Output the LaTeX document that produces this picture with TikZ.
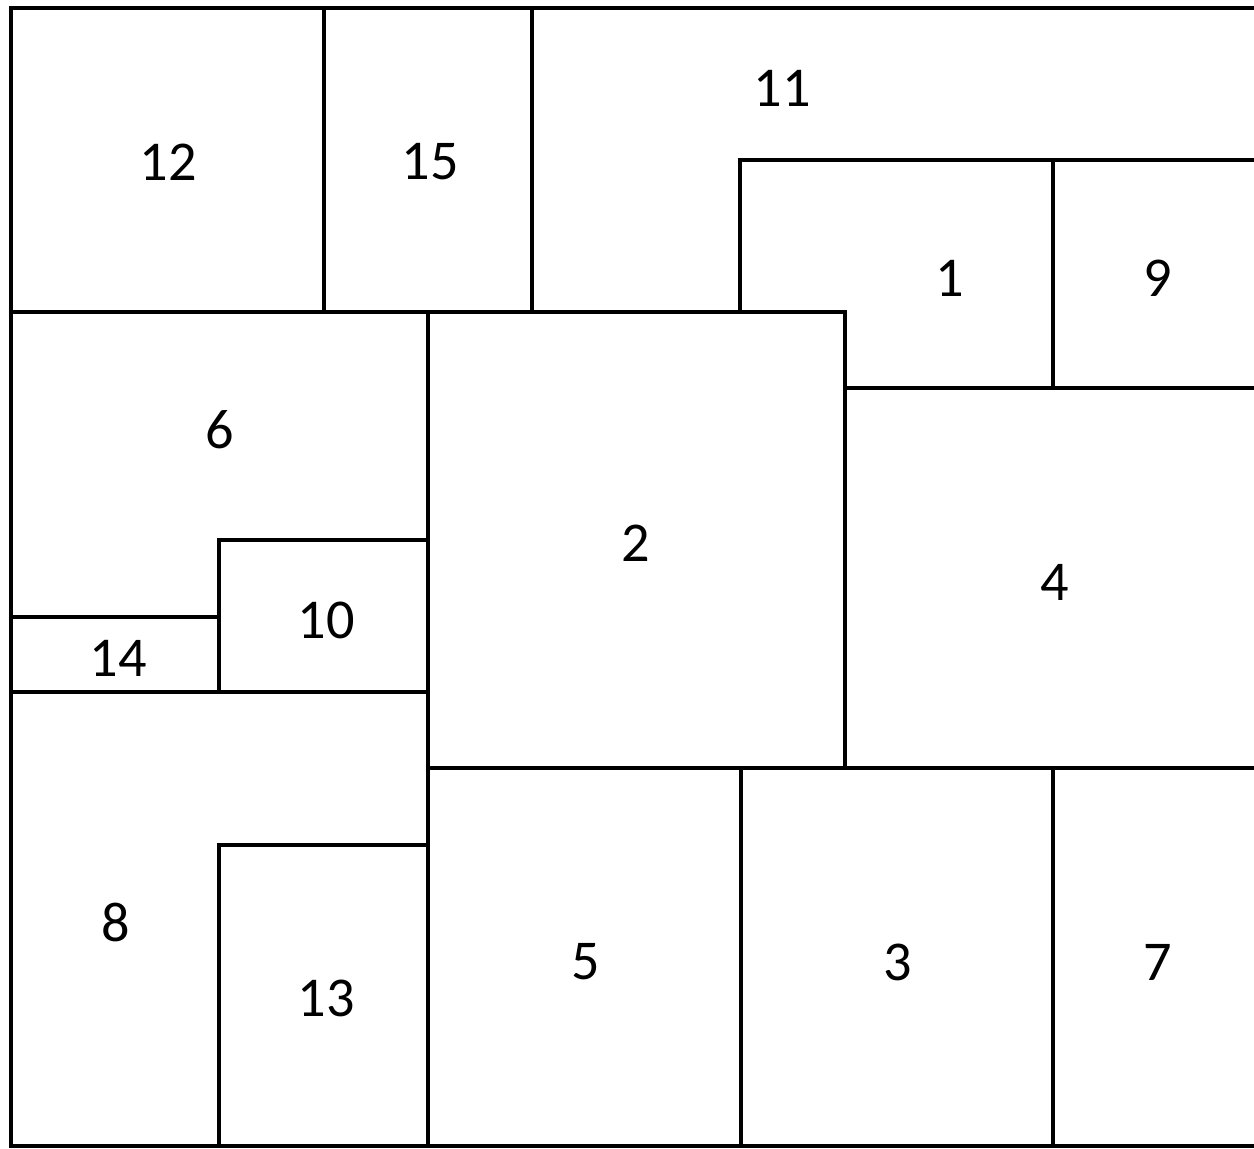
\documentclass[tikz,border=0pt]{standalone}
\usepackage{fontspec}
\setmainfont{Carlito}
\usepackage{tikz}

\begin{document}
\begin{tikzpicture}[
        x=0.02cm, y=-0.02cm,
        wall/.style={line width=2.3pt, line cap=rect},
        num/.style={font=\fontsize{32}{38}\selectfont, inner sep=0pt}
    ]
        \useasboundingbox (0,0) rectangle (1254,1149);

        % Outline (open on the right)
        \draw[wall] (1254,8) -- (11,8) -- (11,1146) -- (1254,1146);

        % Top band
        \draw[wall] (324,8) -- (324,312);
        \draw[wall] (532,8) -- (532,312);
        \draw[wall] (11,312) -- (845,312) -- (845,768);
        \draw[wall] (740,312) -- (740,160) -- (1254,160);
        \draw[wall] (1053,160) -- (1053,388);
        \draw[wall] (845,388) -- (1254,388);

        % Middle band
        \draw[wall] (428,312) -- (428,1146);
        \draw[wall] (428,768) -- (1254,768);
        \draw[wall] (428,540) -- (219,540) -- (219,692);
        \draw[wall] (11,617) -- (219,617);
        \draw[wall] (11,692) -- (428,692);

        % Bottom band
        \draw[wall] (428,845) -- (219,845) -- (219,1146);
        \draw[wall] (741,768) -- (741,1146);
        \draw[wall] (1053,768) -- (1053,1146);

        % Labels
        \node[num] (r12) at (168,162) {12};
        \node[num] (r15) at (430,162) {15};
        \node[num] (r11) at (782,88) {11};
        \node[num] (r1) at (950,278) {1};
        \node[num] (r9) at (1158,278) {9};
        \node[num] (r6) at (220,430) {6};
        \node[num] (r2) at (636,543) {2};
        \node[num] (r4) at (1055,582) {4};
        \node[num] (r10) at (326,620) {10};
        \node[num] (r14) at (118,658) {14};
        \node[num] (r8) at (116,922) {8};
        \node[num] (r13) at (326,998) {13};
        \node[num] (r5) at (586,962) {5};
        \node[num] (r3) at (898,962) {3};
        \node[num] (r7) at (1158,962) {7};
    \end{tikzpicture}
\end{document}
